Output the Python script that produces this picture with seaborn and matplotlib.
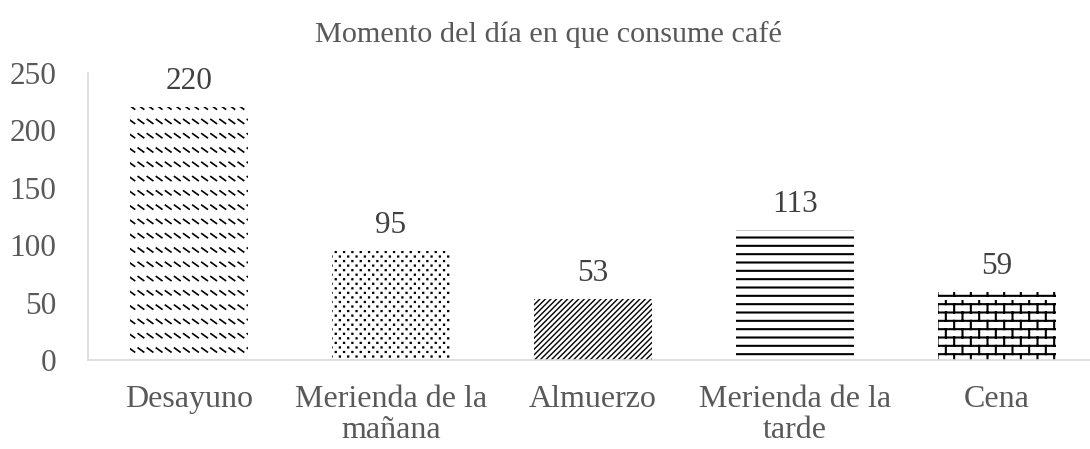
import warnings
import numpy as np
import matplotlib
matplotlib.use("Agg")
import matplotlib.pyplot as plt
import matplotlib.hatch as mhatch
from matplotlib.path import Path
import seaborn as sns

warnings.filterwarnings("ignore")

categorias = ["Desayuno", "Merienda de la\nmañana", "Almuerzo", "Merienda de la\ntarde", "Cena"]
valores = [220, 95, 53, 113, 59]
tramas = ["D", "P", "//////", "--", "B"]
yticks = [0, 50, 100, 150, 200, 250]
titulo = "Momento del día en que consume café"


# tramas propias: filas de guiones, puntos alternados y ladrillos
class GuionesHatch(mhatch.HatchPatternBase):
    def __init__(self, hatch, density):
        self.filas = 7 if "D" in hatch else 0
        self.cols = 11
        self.num_vertices = self.filas * self.cols * 2

    def set_vertices_and_codes(self, vertices, codes):
        k = 0
        for i in range(self.filas):
            y = (i + 0.5) / self.filas
            for j in range(self.cols):
                x = (j + 0.2) / self.cols
                vertices[k] = (x, y + 0.02)
                vertices[k + 1] = (x + 0.055, y - 0.02)
                codes[k] = Path.MOVETO
                codes[k + 1] = Path.LINETO
                k += 2


class PuntosHatch(mhatch.HatchPatternBase):
    def __init__(self, hatch, density):
        self.filas = 22 if "P" in hatch else 0
        self.cols = 12
        self.num_vertices = self.filas * self.cols * 5

    def set_vertices_and_codes(self, vertices, codes):
        k = 0
        s = 0.006
        for i in range(self.filas):
            y = (i + 0.5) / self.filas
            off = 0.5 * (i % 2)
            for j in range(self.cols):
                x = (j + 0.25 + off) / self.cols
                vertices[k:k + 5] = [(x, y), (x + s, y), (x + s, y + s), (x, y + s), (x, y)]
                codes[k] = Path.MOVETO
                codes[k + 1:k + 4] = Path.LINETO
                codes[k + 4] = Path.CLOSEPOLY
                k += 5


class LadrilloHatch(mhatch.HatchPatternBase):
    def __init__(self, hatch, density):
        self.filas = 12 if "B" in hatch else 0
        self.cols = 6
        self.num_vertices = self.filas * 2 + self.filas * self.cols * 2

    def set_vertices_and_codes(self, vertices, codes):
        k = 0
        h = 1 / self.filas
        for i in range(self.filas):
            y0 = (i + 0.5) * h
            vertices[k] = (0, y0)
            vertices[k + 1] = (1, y0)
            codes[k] = Path.MOVETO
            codes[k + 1] = Path.LINETO
            k += 2
            off = 0.5 * (i % 2)
            for j in range(self.cols):
                x = (j + 0.25 + off) / self.cols
                vertices[k] = (x, y0)
                vertices[k + 1] = (x, y0 + h)
                codes[k] = Path.MOVETO
                codes[k + 1] = Path.LINETO
                k += 2


mhatch._hatch_types.extend([GuionesHatch, PuntosHatch, LadrilloHatch])

sns.set_style("white")
plt.rcParams["font.family"] = ["Liberation Serif", "DejaVu Serif"]
plt.rcParams["hatch.linewidth"] = 1.4
plt.rcParams["hatch.color"] = "black"

fig = plt.figure(figsize=(10.9, 4.49), dpi=100)
ax = fig.add_axes([88 / 1090, 89 / 449, 1010 / 1090, 287 / 449])

sns.barplot(x=categorias, y=valores, color="white", width=0.58,
            edgecolor="black", linewidth=0, saturation=1, ax=ax)

grosores = [1.2, 1.2, 1.0, 1.5, 1.5]
for barra, trama, lw in zip(ax.patches, tramas, grosores):
    barra.set_hatch(trama)
    barra.set_linewidth(0)
    if hasattr(barra, "set_hatch_linewidth"):
        barra.set_hatch_linewidth(lw)

ax.bar_label(ax.containers[0], fontsize=22.5, color="#404040", padding=8)

ax.set_ylim(0, 250)
ax.set_yticks(yticks)
ax.set_xlim(-0.5, len(categorias) - 0.5)
ax.tick_params(axis="both", length=0, labelcolor="#595959")
ax.tick_params(axis="y", pad=23, labelsize=22.5)
ax.tick_params(axis="x", pad=18, labelsize=23)
for lbl in ax.get_xticklabels():
    lbl.set_linespacing(1.08)
ax.set_xlabel("")
ax.set_ylabel("")
for lado in ["top", "right"]:
    ax.spines[lado].set_visible(False)
for lado in ["left", "bottom"]:
    ax.spines[lado].set_color("#d9d9d9")
    ax.spines[lado].set_linewidth(1.2)

fig.text(548 / 1090, 1 - 35 / 449, titulo, ha="center", va="center",
         fontsize=21.8, color="#595959")

fig.savefig("out.png", dpi=100)
